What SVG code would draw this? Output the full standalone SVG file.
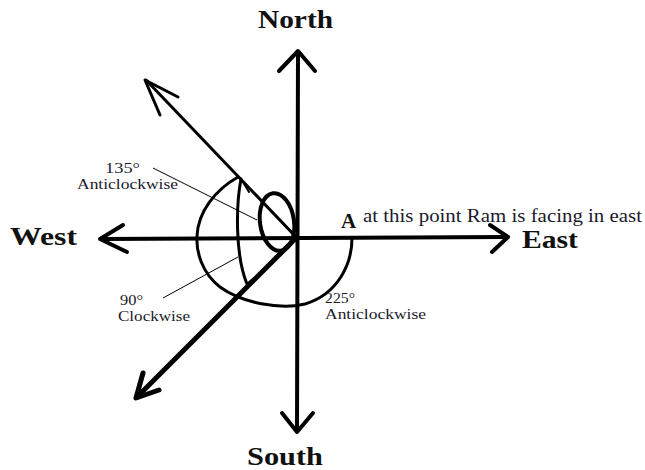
<svg xmlns="http://www.w3.org/2000/svg" width="645" height="470" viewBox="0 0 645 470">
<style>
.ax{fill:none;stroke:#000;stroke-linecap:round;stroke-linejoin:round}
.lead{fill:none;stroke:#000;stroke-width:1}
.big{font-family:"Liberation Serif","DejaVu Serif",serif;font-weight:bold;fill:#111}
.lab{font-family:"Liberation Serif","DejaVu Serif",serif;fill:#1a1a2a}
</style>
<rect width="645" height="470" fill="#fff"/>
<g id="connectors">
  <line class="ax" x1="298" y1="52" x2="297" y2="430" stroke-width="4"/>
  <polyline class="ax" points="279,71 298,51 315,71" stroke-width="4"/>
  <polyline class="ax" points="282,413 297,432 313,413" stroke-width="4"/>
  <line class="ax" x1="101" y1="239" x2="506" y2="237" stroke-width="4"/>
  <polyline class="ax" points="123,225 100,239 127,252" stroke-width="4"/>
  <polyline class="ax" points="490,225 508,237 492,252" stroke-width="4"/>
  <line class="ax" x1="297" y1="238" x2="146" y2="80" stroke-width="3"/>
  <polyline class="ax" points="178,97 145,80 160,115" stroke-width="3"/>
  <line class="ax" x1="296" y1="238" x2="137" y2="397" stroke-width="5"/>
  <polyline class="ax" points="143,373 136,398 159,390" stroke-width="5"/>
  <path class="ax" stroke-width="3" d="M352,238 C352,264 338,294 305,304 C280,310 242,303 220,287 C202,273 196,252 197,236 C198,212 215,190 238,177"/>
  <path class="ax" stroke-width="3" d="M241,179 C236,205 235,255 247,284"/>
  <path class="ax" stroke-width="2" d="M243,182 L249,192 M248,283 L254,278"/>
  <ellipse class="ax" cx="277" cy="222" rx="17" ry="29" stroke-width="4" transform="rotate(-8 277 222)"/>
  <line class="lead" x1="153" y1="168" x2="257" y2="220"/>
  <line class="lead" x1="163" y1="298" x2="238" y2="257"/>
</g>
<g id="north"><text class="big" x="258" y="28" font-size="26" textLength="75" lengthAdjust="spacingAndGlyphs">North</text></g>
<g id="south"><text class="big" x="247" y="465" font-size="26" textLength="76" lengthAdjust="spacingAndGlyphs">South</text></g>
<g id="west"><text class="big" x="10" y="245" font-size="26" textLength="67" lengthAdjust="spacingAndGlyphs">West</text></g>
<g id="east"><text class="big" x="522" y="248" font-size="25" textLength="56" lengthAdjust="spacingAndGlyphs">East</text></g>
<g id="pointA">
  <text class="big" x="341" y="228" font-size="21">A</text>
  <text class="lab" x="363" y="222" font-size="19" textLength="279" lengthAdjust="spacingAndGlyphs">at this point Ram is facing in east</text>
</g>
<g id="label225">
  <text class="lab" x="325" y="303" font-size="14" textLength="30" lengthAdjust="spacingAndGlyphs">225°</text>
  <text class="lab" x="325" y="319" font-size="15" textLength="101" lengthAdjust="spacingAndGlyphs">Anticlockwise</text>
</g>
<g id="label135">
  <text class="lab" x="105" y="173" font-size="14" textLength="35" lengthAdjust="spacingAndGlyphs">135°</text>
  <text class="lab" x="77" y="189" font-size="15" textLength="101" lengthAdjust="spacingAndGlyphs">Anticlockwise</text>
</g>
<g id="label90">
  <text class="lab" x="120" y="305" font-size="14" textLength="23" lengthAdjust="spacingAndGlyphs">90°</text>
  <text class="lab" x="118" y="321" font-size="15" textLength="72" lengthAdjust="spacingAndGlyphs">Clockwise</text>
</g>
</svg>
